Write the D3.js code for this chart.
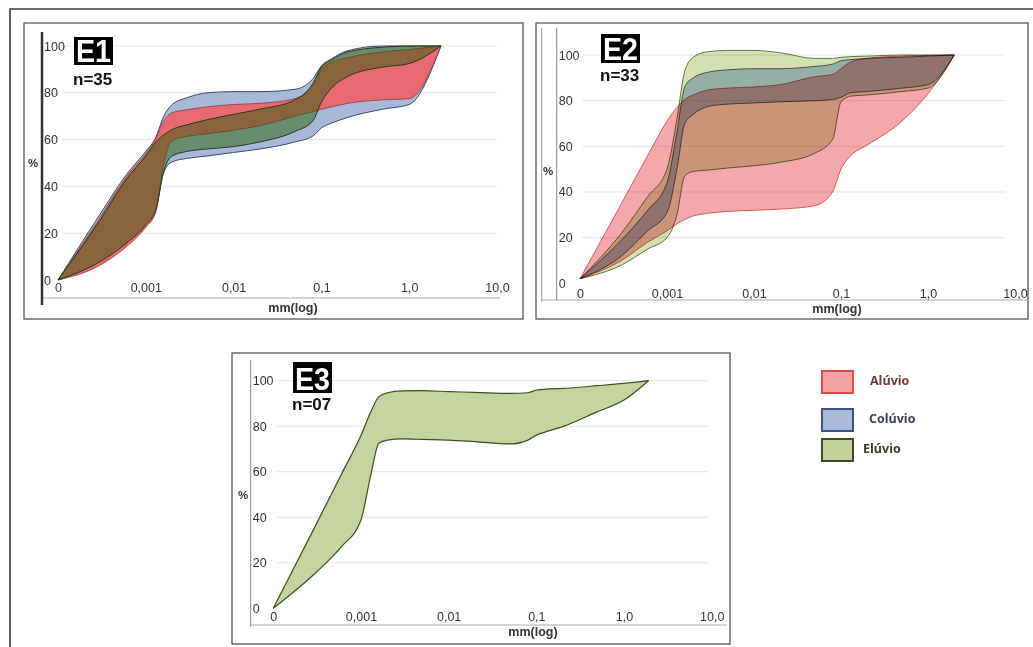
<!DOCTYPE html>
<html>
<head>
<meta charset="utf-8">
<script src="https://cdn.jsdelivr.net/npm/d3@7"></script>
<style>
  body { margin: 0; background: #fff; }
  svg { display: block; }
</style>
</head>
<body>
<script>
// DATA

var xTicks = [0.0001, 0.001, 0.01, 0.1, 1, 10];
var xTickLabels = ["0", "0,001", "0,01", "0,1", "1,0", "10,0"];
var yTicks = [0, 20, 40, 60, 80, 100];
var seriesNames = ["Alúvio", "Colúvio", "Elúvio"];

// E1 (n=35)
var e1Sizes = [0.0001, 0.0003, 0.0006, 0.001, 0.0013, 0.0016, 0.002, 0.003, 0.005, 0.01, 0.02, 0.05, 0.08, 0.1, 0.13, 0.2, 0.5, 1, 2.3];
var e1ColuvioUpper = [0, 28, 45, 55, 61, 70, 75, 78, 80, 80.5, 80.5, 81.5, 86, 91.5, 94.5, 98, 100, 100, 100];
var e1ColuvioLower = [0, 7.5, 15.5, 23.5, 30, 46, 50.5, 52, 53, 54.5, 56, 59, 61.5, 65, 67, 69.5, 73, 75, 100];
var e1AluvioUpper = [0, 26.5, 44, 54, 60.5, 68, 71.5, 72.8, 74, 75, 75.5, 77.5, 83, 90, 93, 95, 97.5, 98.5, 100];
var e1AluvioLower = [0, 6.3, 14.2, 22.5, 29, 50, 59.5, 61.4, 62.5, 64, 66, 70, 72, 73, 74, 75.5, 77, 77.5, 100];
var e1EluvioUpper = [0, 25.5, 43, 53, 59, 62, 64.3, 66.4, 68.5, 70.8, 73, 77, 84, 91, 94, 97.5, 99.5, 100, 100];
var e1EluvioLower = [0, 7.8, 15.7, 23.6, 30, 46.5, 53, 55, 56, 57, 59, 63.5, 68, 76, 82, 87, 91, 92.5, 100];

// E2 (n=33)
var e2Sizes = [0.0001, 0.0003, 0.0006, 0.001, 0.0013, 0.0016, 0.002, 0.003, 0.005, 0.01, 0.02, 0.05, 0.08, 0.1, 0.13, 0.2, 0.5, 1, 2];
var e2AluvioUpper = [2, 35, 56, 71, 77, 80.5, 82.5, 84.7, 85.5, 86, 87, 90.5, 91.5, 94, 97, 98.5, 99.5, 99.8, 100];
var e2AluvioLower = [2, 10, 18, 23, 26, 28, 29.5, 30.7, 31.5, 32, 32.5, 34, 40, 50, 56, 60.5, 71, 83, 100];
var e2ColuvioUpper = [2, 19, 32, 44, 66, 86, 90, 92.5, 93.5, 94, 94, 95, 96, 97.5, 98, 98.5, 99, 99.5, 100];
var e2ColuvioLower = [2, 12, 23, 31, 50, 70, 74, 77.5, 78.5, 79, 79.5, 80, 80.5, 81.5, 83.5, 84, 85.5, 87, 100];
var e2EluvioUpper = [2, 22, 38, 50, 72, 93, 99, 101.5, 102, 102, 101, 98.5, 98.5, 99, 99.3, 99.5, 100, 100, 100];
var e2EluvioLower = [2, 8, 15, 20, 30, 47, 49, 49.6, 50.5, 51.5, 53, 57, 63, 79.5, 82, 82.5, 84, 85.5, 100];

// E3 (n=07)
var e3Sizes = [0.0001, 0.0003, 0.0006, 0.001, 0.0013, 0.0016, 0.002, 0.003, 0.005, 0.01, 0.02, 0.05, 0.08, 0.1, 0.13, 0.2, 0.5, 1, 1.9];
var e3EluvioUpper = [0, 36, 59, 76, 86.5, 93, 94.7, 95.5, 95.6, 95.2, 94.9, 94.4, 94.7, 95.9, 96.3, 96.6, 97.8, 98.8, 100];
var e3EluvioLower = [0, 15.4, 27.1, 38.8, 59, 72.5, 73.9, 74.4, 74.2, 73.9, 73.2, 72.2, 73.9, 76.1, 77.6, 79.8, 86.4, 91.5, 100];

// SVG

var svg = d3.select("body").append("svg")
  .attr("width", 1033)
  .attr("height", 647);

var font = "'Liberation Sans', Arial, sans-serif";

// outer frame (only top and left edges are in view)
svg.append("path")
  .attr("d", "M10,647 L10,9 L1033,9")
  .attr("fill", "none")
  .attr("stroke", "#3a3a3a")
  .attr("stroke-width", 1.6);

// PANEL DRAWER

function drawPanel(p) {
  var g = svg.append("g");

  g.append("rect")
    .attr("x", p.box[0]).attr("y", p.box[1])
    .attr("width", p.box[2] - p.box[0]).attr("height", p.box[3] - p.box[1])
    .attr("fill", "#fff")
    .attr("stroke", "#555")
    .attr("stroke-width", 1.3);

  var x = d3.scaleLog().domain([0.0001, 10]).range([p.x0, p.x1]);
  var y = d3.scaleLinear().domain([0, 100]).range([p.y0, p.y100]);

  // gridlines
  g.selectAll(".grid").data(yTicks.slice(1)).enter().append("line")
    .attr("x1", p.gridX[0]).attr("x2", p.gridX[1])
    .attr("y1", function(d) { return y(d); })
    .attr("y2", function(d) { return y(d); })
    .attr("stroke", "#e4e4e4")
    .attr("stroke-width", 1);

  // x axis line
  g.append("line")
    .attr("x1", p.xLine[0]).attr("x2", p.xLine[1])
    .attr("y1", p.xLineY).attr("y2", p.xLineY)
    .attr("stroke", "#aaa").attr("stroke-width", 1);

  // extra frame line (E2)
  if (p.extraLine) {
    g.append("line")
      .attr("x1", p.extraLine).attr("x2", p.extraLine)
      .attr("y1", p.yLine[0]).attr("y2", p.yLine[1] + 2)
      .attr("stroke", "#999").attr("stroke-width", 1);
  }

  // bands
  p.bands.forEach(function(b) {
    var rows = p.sizes.map(function(s, i) {
      return {s: s, lo: b.lower[i], hi: b.upper[i]};
    });
    var area = d3.area()
      .x(function(d) { return x(d.s); })
      .y0(function(d) { return y(d.lo); })
      .y1(function(d) { return y(d.hi); })
      .curve(d3.curveMonotoneX);
    g.append("path")
      .attr("d", area(rows))
      .attr("fill", b.fill)
      .attr("fill-opacity", b.opacity)
      .attr("stroke", b.stroke)
      .attr("stroke-width", b.strokeWidth || 1)
      .attr("stroke-linejoin", "round")
      .style("mix-blend-mode", p.blend || "normal");
  });

  // y axis line
  g.append("line")
    .attr("x1", p.yLineX).attr("x2", p.yLineX)
    .attr("y1", p.yLine[0]).attr("y2", p.yLine[1])
    .attr("stroke", p.yLineColor).attr("stroke-width", p.yLineWidth);

  // y tick labels
  var yAxis = g.append("g")
    .attr("transform", "translate(" + p.yLineX + ",0)")
    .call(d3.axisRight(y).tickValues(yTicks).tickSize(0).tickPadding(2));
  yAxis.select(".domain").remove();
  yAxis.selectAll("text")
    .attr("font-family", font).attr("font-size", 12.5).attr("fill", "#333");

  // x tick labels
  var xAxis = g.append("g")
    .attr("transform", "translate(0," + p.xLabelY + ")")
    .call(d3.axisBottom(x).tickValues(xTicks)
      .tickFormat(function(d, i) { return xTickLabels[i]; })
      .tickSize(0).tickPadding(0));
  xAxis.select(".domain").remove();
  xAxis.selectAll("text")
    .attr("font-family", font).attr("font-size", 12.5).attr("fill", "#333");

  // axis titles
  g.append("text")
    .attr("x", p.pct[0]).attr("y", p.pct[1])
    .attr("text-anchor", "middle").attr("dominant-baseline", "middle")
    .attr("font-family", font).attr("font-size", 11.5).attr("font-weight", "bold")
    .attr("fill", "#333")
    .text("%");
  g.append("text")
    .attr("x", p.mm[0]).attr("y", p.mm[1])
    .attr("text-anchor", "middle").attr("dominant-baseline", "middle")
    .attr("font-family", font).attr("font-size", 12.5).attr("font-weight", "bold")
    .attr("fill", "#333")
    .text("mm(log)");

  // E label
  g.append("rect")
    .attr("x", p.tag[0]).attr("y", p.tag[1])
    .attr("width", p.tag[2]).attr("height", p.tag[3])
    .attr("fill", "#000");
  g.append("text")
    .attr("x", p.tag[0] + p.tag[2] / 2).attr("y", p.tag[1] + p.tag[3] - 3)
    .attr("text-anchor", "middle")
    .attr("font-family", "'Liberation Sans Narrow', 'Liberation Sans', Arial, sans-serif")
    .attr("font-size", 31).attr("font-weight", "bold")
    .attr("fill", "#fff")
    .attr("textLength", p.tag[2] - 4).attr("lengthAdjust", "spacingAndGlyphs")
    .text(p.name);
  g.append("text")
    .attr("x", p.tag[0] - 1).attr("y", p.nY)
    .attr("font-family", font).attr("font-size", 17).attr("font-weight", "bold")
    .attr("fill", "#111")
    .text(p.n);
}

// E1

drawPanel({
  name: "E1", n: "n=35",
  box: [24, 23, 523, 319],
  x0: 58, x1: 497, y0: 280, y100: 46,
  gridX: [62, 497],
  xLine: [42, 500], xLineY: 298,
  yLineX: 42, yLine: [32, 305], yLineColor: "#333", yLineWidth: 2.5,
  xLabelY: 283,
  pct: [33, 164], mm: [293, 309],
  tag: [74, 37, 39, 28], nY: 85,
  sizes: e1Sizes,
  bands: [
    {upper: e1ColuvioUpper, lower: e1ColuvioLower, fill: "#a7b9d7", opacity: 1, stroke: "#3d4a63"},
    {upper: e1AluvioUpper, lower: e1AluvioLower, fill: "#ec646e", opacity: 0.95, stroke: "#8a3a3a", strokeWidth: 0.8},
    {upper: e1EluvioUpper, lower: e1EluvioLower, fill: "#2a6005", opacity: 0.5, stroke: "#2a3a1a"}
  ]
});

// E2

drawPanel({
  name: "E2", n: "n=33",
  box: [536, 23, 1028, 319],
  x0: 580, x1: 1015, y0: 283.3, y100: 55,
  gridX: [582, 1005],
  xLine: [541, 1027], xLineY: 300,
  extraLine: 541.7,
  yLineX: 556.7, yLine: [28, 300], yLineColor: "#888", yLineWidth: 1,
  xLabelY: 289,
  pct: [548, 172], mm: [837, 310],
  tag: [601, 34, 39, 29], nY: 81,
  sizes: e2Sizes,
  blend: "multiply",
  bands: [
    {upper: e2EluvioUpper, lower: e2EluvioLower, fill: "#d4e0b2", opacity: 1, stroke: "#55653a", strokeWidth: 0.9},
    {upper: e2ColuvioUpper, lower: e2ColuvioLower, fill: "#b4c8eb", opacity: 1, stroke: "#4a5060", strokeWidth: 0.9},
    {upper: e2AluvioUpper, lower: e2AluvioLower, fill: "#f5a8ac", opacity: 1, stroke: "#c85050", strokeWidth: 0.9}
  ]
});

// E3

drawPanel({
  name: "E3", n: "n=07",
  box: [232, 353, 730, 644],
  x0: 273.3, x1: 711.7, y0: 608.3, y100: 380.7,
  gridX: [277, 708],
  xLine: [251, 727], xLineY: 625,
  yLineX: 250.7, yLine: [360, 627], yLineColor: "#888", yLineWidth: 1,
  xLabelY: 612,
  pct: [243, 496], mm: [533, 633],
  tag: [293, 362, 39, 31], nY: 410,
  sizes: e3Sizes,
  bands: [
    {upper: e3EluvioUpper, lower: e3EluvioLower, fill: "#c5d3a1", opacity: 1, stroke: "#3a5020", strokeWidth: 1.2}
  ]
});

// LEGEND

var legendFill = ["#f4a3a3", "#a9bbd9", "#c2d19a"];
var legendStroke = ["#e04848", "#3b5482", "#3d4b24"];
var legendText = ["#6b3a3a", "#3c3f55", "#3d3d2c"];
var legendY = [371, 409, 439];
var legendTextX = [870, 869, 863];

var legend = svg.append("g");
seriesNames.forEach(function(name, i) {
  legend.append("rect")
    .attr("x", 822).attr("y", legendY[i])
    .attr("width", 31).attr("height", 22)
    .attr("fill", legendFill[i])
    .attr("stroke", legendStroke[i])
    .attr("stroke-width", 2);
  legend.append("text")
    .attr("x", legendTextX[i]).attr("y", legendY[i] + 11)
    .attr("dominant-baseline", "middle")
    .attr("font-family", "'Open Sans', 'Liberation Sans', sans-serif")
    .attr("font-size", 12.5).attr("font-weight", "bold")
    .attr("fill", legendText[i])
    .text(name);
});
</script>
</body>
</html>
